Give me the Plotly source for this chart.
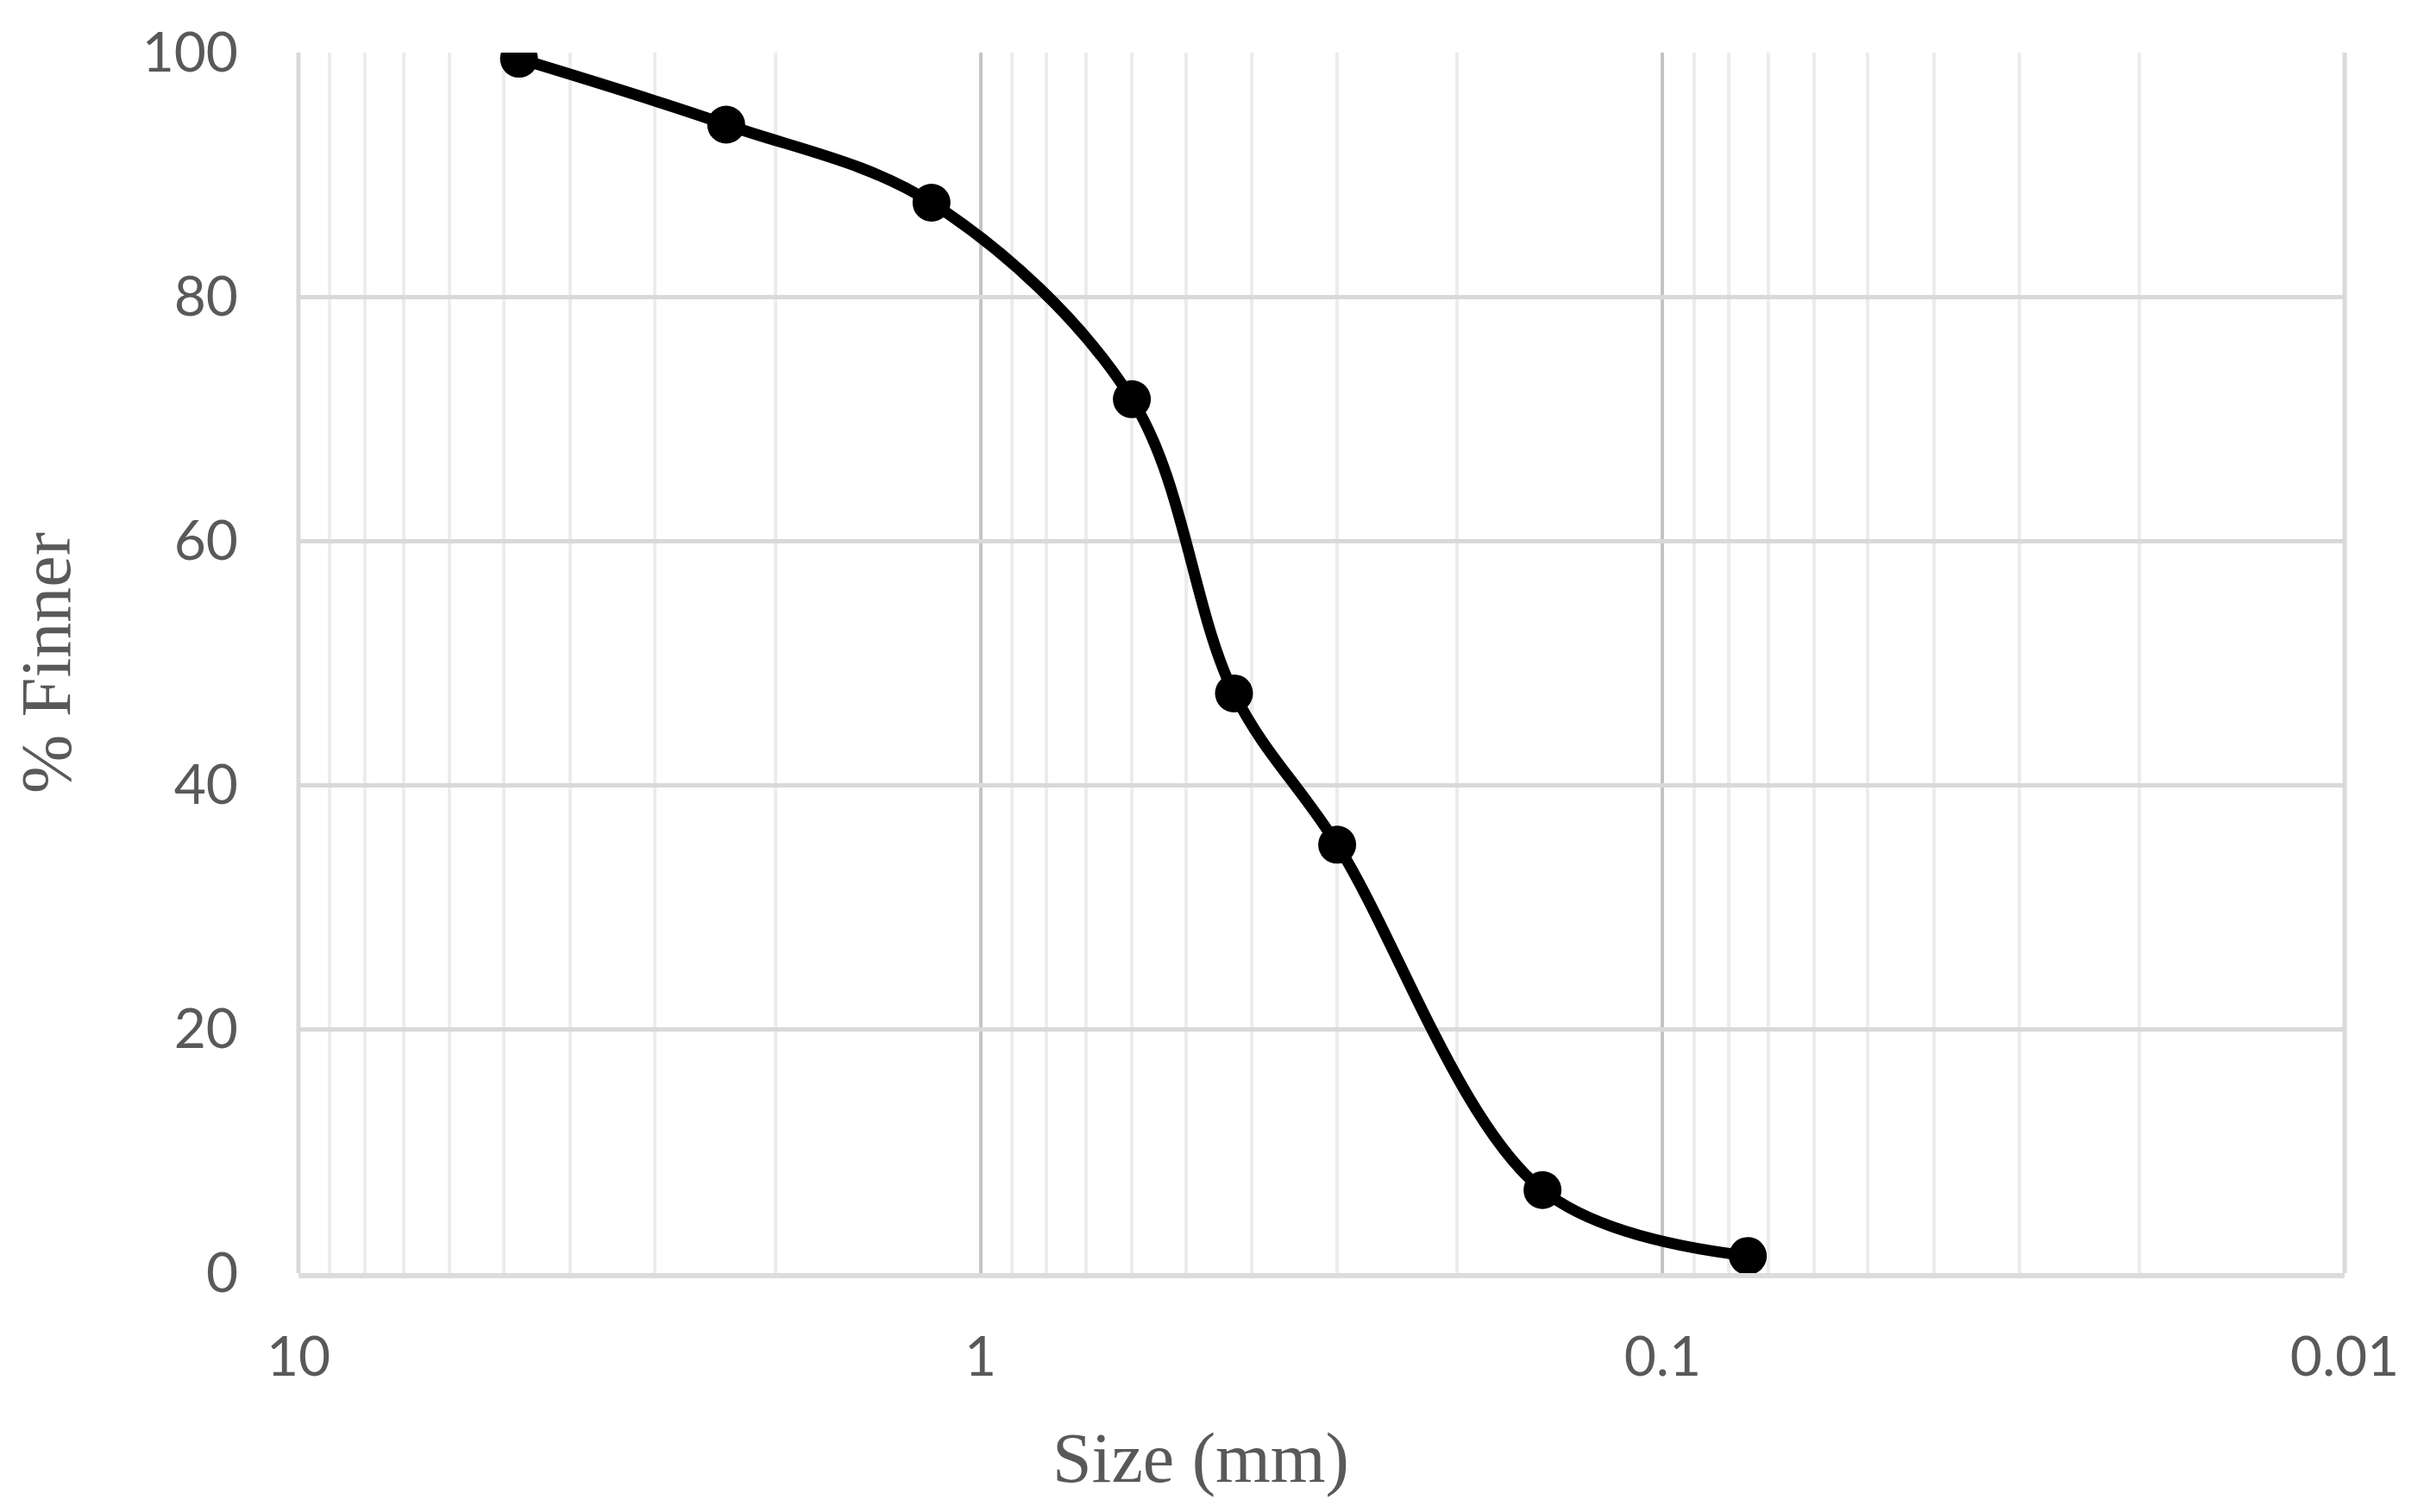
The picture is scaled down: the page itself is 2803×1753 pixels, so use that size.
import plotly.graph_objects as go

# sieve analysis data
size_mm = [4.75, 2.36, 1.18, 0.6, 0.425, 0.3, 0.15, 0.075]
pct_finer = [99.5, 94.1, 87.7, 71.6, 47.5, 35.1, 6.8, 1.4]

x_ticks = [10, 1, 0.1, 0.01]
x_ticktext = ['10', '1', '0.1', '0.01']
y_ticks = [0, 20, 40, 60, 80, 100]

# minor gridlines at 2..9 of each decade
minor_vals = [m * d for d in [1, 0.1, 0.01] for m in range(2, 10)]

trace = go.Scatter(
    x=size_mm, y=pct_finer, mode='lines+markers',
    line=dict(color='black', width=13, shape='spline', smoothing=1),
    marker=dict(color='black', size=44),
    showlegend=False,
)

tick_font = dict(family='Lato', size=64, color='#595959')
title_font = dict(family='Liberation Serif', size=82, color='#595959')

layout = go.Layout(
    width=2803, height=1753,
    paper_bgcolor='white', plot_bgcolor='white',
    margin=dict(l=338, r=93, t=50, b=285),
    xaxis=dict(
        type='log', range=[1, -2],
        tickvals=x_ticks, ticktext=x_ticktext, tickfont=tick_font,
        showgrid=True, gridcolor='#c4c4c4', gridwidth=4,
        minor=dict(tickvals=minor_vals, showgrid=True, gridcolor='#ececec', gridwidth=4),
        showline=True, linecolor='#dcdcdc', linewidth=6,
        ticks='', ticklabelstandoff=36,
        zeroline=False,
    ),
    yaxis=dict(
        range=[0, 100], tickvals=y_ticks, tickfont=tick_font,
        showgrid=True, gridcolor='#d9d9d9', gridwidth=5,
        zeroline=False, showline=False,
        ticks='', ticklabelstandoff=69,
        title=dict(text='% Finner', font=title_font, standoff=60),
    ),
    # x title sits left of centre in the reference
    annotations=[dict(text='Size (mm)', font=title_font, showarrow=False,
                      xref='paper', yref='paper', x=0.441, y=-0.1515,
                      xanchor='center', yanchor='middle')],
)

fig = go.Figure(data=[trace], layout=layout)
# plot border lines at left/right edges like the reference
fig.update_layout(shapes=[
    dict(type='line', xref='paper', yref='paper', x0=0, x1=0, y0=0, y1=1,
         line=dict(color='#d9d9d9', width=5), layer='below'),
    dict(type='line', xref='paper', yref='paper', x0=1, x1=1, y0=0, y1=1,
         line=dict(color='#d9d9d9', width=5), layer='below'),
])
fig.write_html('out.html')
